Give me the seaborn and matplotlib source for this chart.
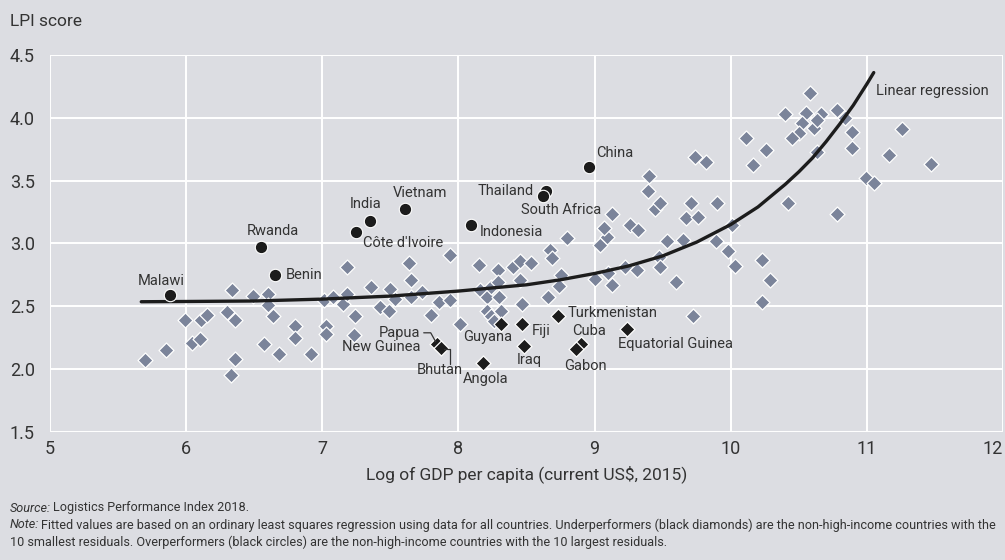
import matplotlib
matplotlib.use('Agg')
import matplotlib.pyplot as plt
import seaborn as sns
import pandas as pd

# all other countries (grey diamonds): log GDP per capita, LPI score
other_gdp = [5.70, 5.85, 5.99, 6.04, 6.10, 6.11, 6.15, 6.30, 6.34, 6.36, 6.36, 6.33,
             6.49, 6.57, 6.60, 6.60, 6.64, 6.68, 6.80, 6.80, 6.92, 7.01, 7.03, 7.03,
             7.08, 7.15, 7.18, 7.18, 7.24, 7.23, 7.36, 7.42, 7.49, 7.50, 7.53, 7.64,
             7.65, 7.65, 7.73, 7.80, 7.86, 7.94, 7.94, 8.01, 8.15, 8.16, 8.21, 8.24,
             8.29, 8.29, 8.30, 8.21, 8.24, 8.26, 8.31, 8.40, 8.45, 8.45, 8.53, 8.47,
             8.67, 8.69, 8.66, 8.75, 8.74, 8.80, 9.00, 9.10, 9.13, 9.04, 9.09, 9.07,
             9.13, 9.26, 9.32, 9.22, 9.31, 9.40, 9.39, 9.44, 9.48, 9.47, 9.48, 9.53,
             9.60, 9.65, 9.67, 9.71, 9.76, 9.74, 9.82, 9.90, 9.89, 9.98, 10.03, 10.01,
             10.23, 10.29, 10.23, 9.72, 10.11, 10.16, 10.26, 10.42, 10.58, 10.40, 10.55,
             10.66, 10.78, 10.84, 10.52, 10.61, 10.63, 10.50, 10.45, 10.89, 10.89, 10.63,
             11.26, 11.16, 11.47, 10.99, 11.05, 10.78]
other_lpi = [2.07, 2.15, 2.39, 2.21, 2.24, 2.39, 2.43, 2.45, 2.63, 2.39, 2.08, 1.95,
             2.58, 2.20, 2.60, 2.51, 2.42, 2.12, 2.34, 2.25, 2.12, 2.55, 2.34, 2.28,
             2.57, 2.52, 2.60, 2.81, 2.42, 2.27, 2.65, 2.49, 2.46, 2.64, 2.56, 2.84,
             2.71, 2.57, 2.61, 2.43, 2.53, 2.55, 2.91, 2.36, 2.83, 2.63, 2.57, 2.65,
             2.79, 2.69, 2.57, 2.46, 2.42, 2.38, 2.46, 2.81, 2.86, 2.71, 2.84, 2.52,
             2.95, 2.88, 2.57, 2.75, 2.66, 3.04, 2.72, 2.76, 2.67, 2.99, 3.05, 3.12,
             3.23, 3.15, 3.11, 2.81, 2.79, 3.54, 3.42, 3.27, 3.32, 2.89, 2.81, 3.02,
             2.69, 3.03, 3.20, 3.32, 3.21, 3.69, 3.65, 3.32, 3.02, 2.94, 2.82, 3.15,
             2.87, 2.71, 2.53, 2.42, 3.84, 3.62, 3.74, 3.32, 4.20, 4.03, 4.04,
             4.03, 4.06, 4.00, 3.96, 3.92, 3.98, 3.88, 3.84, 3.89, 3.76, 3.73,
             3.91, 3.70, 3.63, 3.52, 3.48, 3.23]

# overperformers (black circles)
over_names = ['Malawi', 'Rwanda', 'Benin', "Côte d'Ivoire", 'India', 'Vietnam',
              'Indonesia', 'Thailand', 'South Africa', 'China']
over_gdp = [5.88, 6.55, 6.65, 7.25, 7.35, 7.61, 8.09, 8.64, 8.62, 8.96]
over_lpi = [2.59, 2.97, 2.75, 3.09, 3.18, 3.27, 3.15, 3.42, 3.38, 3.61]

# underperformers (black diamonds)
under_names = ['Papua\nNew Guinea', 'Bhutan', 'Guyana', 'Angola', 'Fiji', 'Iraq',
               'Turkmenistan', 'Cuba', 'Gabon', 'Equatorial Guinea']
under_gdp = [7.84, 7.87, 8.31, 8.18, 8.47, 8.48, 8.73, 8.90, 8.86, 9.24]
under_lpi = [2.20, 2.17, 2.36, 2.05, 2.36, 2.18, 2.42, 2.20, 2.16, 2.32]

# fitted curve
fit_gdp = [5.67, 6.0, 6.5, 7.0, 7.5, 8.0, 8.5, 8.75, 9.0, 9.25, 9.5, 9.75, 10.0,
           10.1, 10.2, 10.3, 10.4, 10.5, 10.6, 10.7, 10.8, 10.9, 11.0, 11.05]
fit_lpi = [2.535, 2.537, 2.541, 2.556, 2.58, 2.62, 2.67, 2.71, 2.76, 2.82, 2.90,
           3.01, 3.15, 3.22, 3.29, 3.38, 3.47, 3.57, 3.68, 3.81, 3.95, 4.10, 4.27, 4.36]

# label placement: offset in pixels from the marker (x right, y up), alignment
label_pos = {
    'Malawi': (-9, 14, 'center'), 'Rwanda': (12, 16, 'center'),
    'Benin': (11, 0, 'left'), "Côte d'Ivoire": (7, -11, 'left'),
    'India': (-4, 17, 'center'), 'Vietnam': (15, 16, 'center'),
    'Indonesia': (9, -7, 'left'), 'Thailand': (-12, 0, 'right'),
    'South Africa': (18, -14, 'center'), 'China': (7, 14, 'left'),
    'Papua\nNew Guinea': (-16, 4, 'right'), 'Bhutan': (-1, -22, 'center'),
    'Guyana': (-13, -13, 'center'), 'Angola': (3, -16, 'center'),
    'Fiji': (9, -7, 'left'), 'Iraq': (5, -14, 'center'),
    'Turkmenistan': (10, 3, 'left'), 'Cuba': (8, 13, 'center'),
    'Gabon': (10, -17, 'center'), 'Equatorial Guinea': (-9, -15, 'left'),
}

BG = '#dcdde2'
GREY = '#7b849a'
INK = '#1c1c1c'
TXT = '#333333'

sns.set_theme(style='darkgrid')
plt.rcParams['font.family'] = ['Roboto', 'DejaVu Sans']

fig = plt.figure(figsize=(10.05, 5.6), dpi=100, facecolor=BG)
ax = fig.add_axes([0.0498, 0.2291, 0.9483, 0.6727])
ax.set_facecolor(BG)

others = pd.DataFrame({'gdp': other_gdp, 'lpi': other_lpi})
over = pd.DataFrame({'name': over_names, 'gdp': over_gdp, 'lpi': over_lpi})
under = pd.DataFrame({'name': under_names, 'gdp': under_gdp, 'lpi': under_lpi})
fit = pd.DataFrame({'gdp': fit_gdp, 'lpi': fit_lpi})

sns.scatterplot(data=others, x='gdp', y='lpi', marker='D', s=58, color=GREY,
                edgecolor='white', linewidth=0.9, ax=ax, zorder=3)
sns.lineplot(data=fit, x='gdp', y='lpi', sort=False, estimator=None, color=INK,
             linewidth=2.4, ax=ax, zorder=4)
sns.scatterplot(data=under, x='gdp', y='lpi', marker='D', s=58, color=INK,
                edgecolor='white', linewidth=0.9, ax=ax, zorder=5)
sns.scatterplot(data=over, x='gdp', y='lpi', marker='o', s=80, color=INK,
                edgecolor='white', linewidth=0.8, ax=ax, zorder=5)

ax.set_xlim(5, 12)
ax.set_ylim(1.5, 4.5)
ax.set_xticks(range(5, 13))
ax.set_yticks([1.5, 2.0, 2.5, 3.0, 3.5, 4.0, 4.5])
ax.set_yticklabels([f'{v:.1f}' for v in [1.5, 2.0, 2.5, 3.0, 3.5, 4.0, 4.5]])
ax.grid(True, color='white', linewidth=1.4)
for s in ax.spines.values():
    s.set_visible(False)
ax.tick_params(axis='both', length=0, labelsize=13, labelcolor=TXT)
ax.tick_params(axis='y', pad=11)
ax.tick_params(axis='x', pad=6)
ax.get_xticklabels()[-1].set_ha('right')
ax.set_xlabel('Log of GDP per capita (current US$, 2015)', fontsize=12.5,
              color=TXT, labelpad=5)
ax.set_ylabel('')

px = 0.72  # pixels -> points at 100 dpi
for df in (over, under):
    for name, gx, gy in zip(df['name'], df['gdp'], df['lpi']):
        dx, dy, ha = label_pos[name]
        ax.annotate(name, (gx, gy), xytext=(dx * px, dy * px),
                    textcoords='offset points', ha=ha, va='center',
                    fontsize=10.5, color=TXT, linespacing=1.05,
                    multialignment=ha, zorder=6)

ax.text(11.07, 4.21, 'Linear regression', fontsize=10.5, color=TXT,
        ha='left', va='center')

# leader lines for Papua New Guinea and Bhutan (pixel offsets from markers)
def leader(gx, gy, offs):
    x0, y0 = ax.transData.transform((gx, gy))
    xs = [x0 + o[0] for o in offs]
    ys = [y0 + o[1] for o in offs]
    fig.add_artist(plt.Line2D(xs, ys, transform=None, color=TXT, linewidth=0.9))

leader(under_gdp[0], under_lpi[0], [(-13, 11), (-6, 11), (-1, 2)])
leader(under_gdp[1], under_lpi[1], [(3, -1), (9, -1), (9, -16)])

fig.text(10 / 1005, 1 - 22 / 560, 'LPI score', fontsize=12.5, color=TXT,
         ha='left', va='center')

# footnotes with italic lead-ins
FN = 9.1
renderer = fig.canvas.get_renderer()
def note(y, lead, body):
    t = fig.text(10 / 1005, y, lead, fontsize=FN, style='italic', color=TXT,
                 ha='left', va='center')
    w = t.get_window_extent(renderer).width
    fig.text((10 + w + 2) / 1005, y, body, fontsize=FN, color=TXT,
             ha='left', va='center')

note(1 - 508 / 560, 'Source:', 'Logistics Performance Index 2018.')
note(1 - 525 / 560, 'Note:', 'Fitted values are based on an ordinary least squares '
     'regression using data for all countries. Underperformers (black diamonds) are '
     'the non-high-income countries with the')
fig.text(10 / 1005, 1 - 542 / 560, '10 smallest residuals. Overperformers (black '
         'circles) are the non-high-income countries with the 10 largest residuals.',
         fontsize=FN, color=TXT, ha='left', va='center')

fig.savefig('out.png', dpi=100, facecolor=BG)
